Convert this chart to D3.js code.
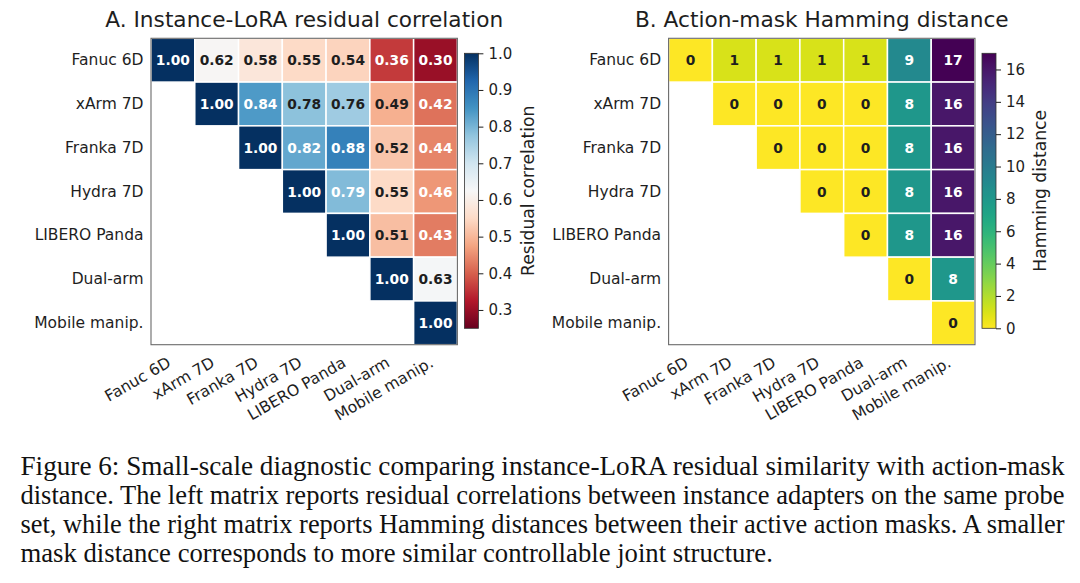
<!DOCTYPE html>
<html><head><meta charset="utf-8">
<script src="https://cdn.jsdelivr.net/npm/d3@7"></script>
<style>body{margin:0;background:#fff}</style>
</head><body>
<svg id="chart" width="1080" height="583"></svg>
<script>
const categories = ["Fanuc 6D","xArm 7D","Franka 7D","Hydra 7D","LIBERO Panda","Dual-arm","Mobile manip."];
// upper-triangle rows: row i starts at column i
const corrRows = [
  [1.00,0.62,0.58,0.55,0.54,0.36,0.30],
  [1.00,0.84,0.78,0.76,0.49,0.42],
  [1.00,0.82,0.88,0.52,0.44],
  [1.00,0.79,0.55,0.46],
  [1.00,0.51,0.43],
  [1.00,0.63],
  [1.00]
];
const hammingRows = [
  [0,1,1,1,1,9,17],
  [0,0,0,0,8,16],
  [0,0,0,8,16],
  [0,0,8,16],
  [0,8,16],
  [0,8],
  [0]
];
const corrDomain = [0.25, 1.0];
const hammingDomain = [0, 17];
const corrTicks = [0.3,0.4,0.5,0.6,0.7,0.8,0.9,1.0];
const hammingTicks = [0,2,4,6,8,10,12,14,16];
const titles = ["A. Instance-LoRA residual correlation","B. Action-mask Hamming distance"];
const cbLabels = ["Residual correlation","Hamming distance"];
const captionLines = [
  "Figure 6: Small-scale diagnostic comparing instance-LoRA residual similarity with action-mask",
  "distance. The left matrix reports residual correlations between instance adapters on the same probe",
  "set, while the right matrix reports Hamming distances between their active action masks. A smaller",
  "mask distance corresponds to more similar controllable joint structure."
];

const svg = d3.select("#chart");
const FONT = "'DejaVu Sans', sans-serif";
const SERIF = "'Liberation Serif', 'Times New Roman', Times, serif";
const DARK = "#1e1e1e";

// matplotlib RdBu (linear segmented through ColorBrewer stops)
const rdbuStops = ["#67001f","#b2182b","#d6604d","#f4a582","#fddbc7","#f7f7f7","#d1e5f0","#92c5de","#4393c3","#2166ac","#053061"];
const rdbuT = d3.scaleLinear().domain(d3.range(11).map(i => i/10)).range(rdbuStops).interpolate(d3.interpolateRgb).clamp(true);
const corrColor = v => rdbuT((v - corrDomain[0]) / (corrDomain[1] - corrDomain[0]));
const hamColor = v => d3.interpolateViridis(1 - (v - hammingDomain[0]) / (hammingDomain[1] - hammingDomain[0]));

function toCells(rows) {
  const cells = [];
  rows.forEach((r, i) => r.forEach((v, k) => cells.push({row: categories[i], col: categories[i + k], v})));
  return cells;
}

function panel(opt) {
  const g = svg.append("g");
  const x = d3.scaleBand().domain(categories).range([opt.x0, opt.x0 + opt.size]);
  const y = d3.scaleBand().domain(categories).range([opt.y0, opt.y0 + opt.size]);
  const cells = toCells(opt.rows);

  g.selectAll("rect.cell").data(cells).join("rect")
    .attr("class", "cell")
    .attr("x", d => x(d.col)).attr("y", d => y(d.row))
    .attr("width", x.bandwidth()).attr("height", y.bandwidth())
    .attr("fill", d => opt.color(d.v))
    .attr("stroke", "#fff").attr("stroke-width", 1.5);

  g.selectAll("text.ann").data(cells).join("text")
    .attr("class", "ann")
    .attr("x", d => x(d.col) + x.bandwidth() / 2)
    .attr("y", d => y(d.row) + y.bandwidth() / 2)
    .attr("text-anchor", "middle").attr("dominant-baseline", "central")
    .attr("font-family", FONT).attr("font-weight", "bold").attr("font-size", 13.8)
    .attr("fill", d => opt.light(d.v) ? "#ffffff" : DARK)
    .text(d => opt.fmt(d.v));

  // frame
  g.append("rect").attr("x", opt.x0).attr("y", opt.y0).attr("width", opt.size).attr("height", opt.size)
    .attr("fill", "none").attr("stroke", "#6a6a6a").attr("stroke-width", 1.1);

  // y tick labels
  g.selectAll("text.ylab").data(categories).join("text")
    .attr("class", "ylab")
    .attr("x", opt.x0 - 7.5).attr("y", d => y(d) + y.bandwidth() / 2)
    .attr("text-anchor", "end").attr("dominant-baseline", "central")
    .attr("font-family", FONT).attr("font-size", 15.5).attr("fill", DARK)
    .text(d => d);

  // x tick labels (rotated 30)
  const yb = opt.y0 + opt.size;
  g.selectAll("text.xlab").data(categories).join("text")
    .attr("class", "xlab")
    .attr("transform", d => `translate(${x(d) + x.bandwidth() / 2 - 1},${yb + 21}) rotate(-30)`)
    .attr("text-anchor", "end")
    .attr("font-family", FONT).attr("font-size", 15.7).attr("fill", DARK)
    .text(d => d);

  // title, sized to the reference width
  const t = g.append("text").attr("x", opt.x0 + opt.size / 2).attr("y", 26.5)
    .attr("text-anchor", "middle").attr("font-family", FONT).attr("font-size", 21).attr("fill", DARK)
    .text(opt.title);
  const tw = t.node().getComputedTextLength();
  t.attr("font-size", 21 * opt.titleW / tw);

  // colorbar
  const cbx = opt.x0 + opt.size + 7, cbw = 14, cbTop = 53.3, cbBot = 328.3;
  const cs = d3.scaleLinear().domain(opt.domain).range([cbBot, cbTop]);
  const gid = "grad" + opt.id;
  const grad = svg.append("defs").append("linearGradient").attr("id", gid)
    .attr("x1", 0).attr("y1", 1).attr("x2", 0).attr("y2", 0);
  grad.selectAll("stop").data(d3.range(0, 1.0001, 0.02)).join("stop")
    .attr("offset", s => s)
    .attr("stop-color", s => opt.color(opt.domain[0] + s * (opt.domain[1] - opt.domain[0])));
  g.append("rect").attr("x", cbx).attr("y", cbTop).attr("width", cbw).attr("height", cbBot - cbTop)
    .attr("fill", `url(#${gid})`).attr("stroke", "#333").attr("stroke-width", 0.8);
  const ax = g.append("g").attr("transform", `translate(${cbx + cbw},0)`)
    .call(d3.axisRight(cs).tickValues(opt.ticks).tickSize(5).tickPadding(5).tickFormat(opt.tickFmt));
  ax.select(".domain").remove();
  ax.selectAll("line").attr("stroke", DARK).attr("stroke-width", 1);
  ax.selectAll("text").attr("font-family", FONT).attr("font-size", 15).attr("fill", DARK);

  g.append("text")
    .attr("transform", `translate(${opt.labelX},${(cbTop + cbBot) / 2}) rotate(-90)`)
    .attr("text-anchor", "middle").attr("dominant-baseline", "central")
    .attr("font-family", FONT).attr("font-size", 17.2).attr("fill", DARK)
    .text(opt.cbLabel);
}

panel({
  id: "A", x0: 151, y0: 38.3, size: 306.4, rows: corrRows, color: corrColor,
  light: v => Math.abs(v - (corrDomain[0] + corrDomain[1]) / 2) / ((corrDomain[1] - corrDomain[0]) / 2) > 0.42,
  fmt: d3.format(".2f"), title: titles[0], titleW: 398, domain: corrDomain, ticks: corrTicks,
  tickFmt: d3.format(".1f"), cbLabel: cbLabels[0], labelX: 528.3
});
panel({
  id: "B", x0: 668.6, y0: 38.3, size: 306.4, rows: hammingRows, color: hamColor,
  light: v => (v - hammingDomain[0]) / (hammingDomain[1] - hammingDomain[0]) > 0.4,
  fmt: d3.format("d"), title: titles[1], titleW: 374, domain: hammingDomain, ticks: hammingTicks,
  tickFmt: d3.format("d"), cbLabel: cbLabels[1], labelX: 1040
});

// caption
const capX = 20.5, capW = 1044, capY0 = 474.5, capDy = 29;
const cap = svg.append("g");
const lines = cap.selectAll("text").data(captionLines).join("text")
  .attr("x", capX).attr("y", (d, i) => capY0 + i * capDy)
  .attr("font-family", SERIF).attr("font-size", 26.5).attr("fill", "#111")
  .text(d => d);
const nat = [];
lines.each(function() { nat.push(this.getComputedTextLength()); });
const ratio = d3.mean(nat.slice(0, 3).map(w => capW / w));
lines.attr("textLength", (d, i) => i < 3 ? capW : nat[i] * ratio).attr("lengthAdjust", "spacingAndGlyphs");
</script>
</body></html>
